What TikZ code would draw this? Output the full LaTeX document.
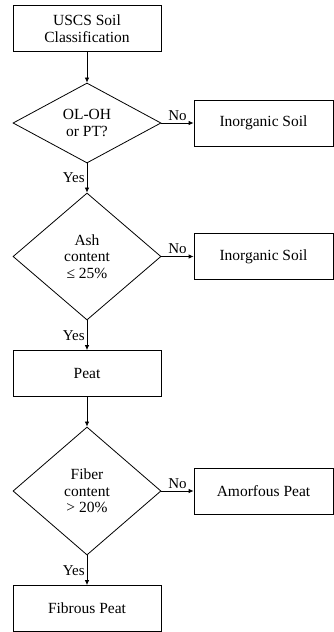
\documentclass[tikz,border=0pt]{standalone}
\usepackage{fontspec}
\setmainfont{Liberation Serif}
\usepackage{tikz}
\usetikzlibrary{shapes.geometric}
\usetikzlibrary{arrows.meta}
\tikzset{
    boxnode/.style = {rectangle, draw=black, align=center, minimum width=148pt, minimum height=46pt, inner sep=0pt},
    sidenode/.style = {rectangle, draw=black, align=center, minimum width=139pt, minimum height=46pt, inner sep=0pt},
    decnode/.style = {diamond, draw=black, align=center, minimum width=148pt, inner sep=0pt},
}

\begin{document}
\begin{tikzpicture}[
	x=1pt, y=-1pt,
	line width=0.8pt,
	font=\fontsize{15.5}{16.5}\selectfont
]
\tikzset{
    edgea/.style = {-{Latex[length=5pt,width=4.5pt]}},
    lbl/.style = {font=\fontsize{15}{16}\selectfont, inner sep=2pt}
}
\useasboundingbox (0,0) rectangle (334,632);
\node[boxnode] at (87,28.5) (usc) {USCS Soil\\Classification};
\node[decnode, minimum height=80pt] at (87,123) (d1) {OL-OH\\or PT?};
\node[sidenode] at (263.5,123) (inorg1) {Inorganic Soil};
\node[decnode, minimum height=127pt] at (87,256.5) (d2) {Ash\\content\\≤ 25\%};
\node[sidenode] at (263.5,256.5) (inorg2) {Inorganic Soil};
\node[boxnode] at (87,373.5) (peat) {Peat};
\node[decnode, minimum height=128pt] at (87,491) (d3) {Fiber\\content\\> 20\%};
\node[sidenode] at (263.5,491) (amorf) {Amorfous Peat};
\node[boxnode] at (87,608.5) (fib) {Fibrous Peat};
%
\draw[edgea] (usc) edge (d1);
\draw[edgea] (d1) edge node[lbl,above] {No} (inorg1);
\draw[edgea] (d1) edge node[lbl,left] {Yes} (d2);
%
\draw[edgea] (d2) edge node[lbl,above] {No} (inorg2);
\draw[edgea] (d2) edge node[lbl,left] {Yes} (peat);
%
\draw[edgea] (peat) edge (d3);
\draw[edgea] (d3) edge node[lbl,above] {No} (amorf);
\draw[edgea] (d3) edge node[lbl,left] {Yes} (fib);
\end{tikzpicture}
\end{document}
